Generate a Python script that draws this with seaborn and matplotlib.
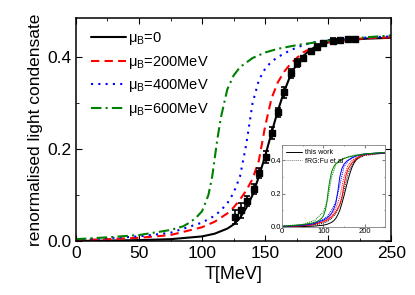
import matplotlib
matplotlib.use("Agg")
import matplotlib.pyplot as plt
from matplotlib.lines import Line2D
from matplotlib.ticker import MultipleLocator, FormatStrFormatter
import seaborn as sns

# ---------------------------------------------------------------------------
# Data
# ---------------------------------------------------------------------------

t_mu0 = [0, 25, 50, 75, 100, 110, 120, 125, 130, 135, 140, 145, 150, 155, 160,
         165, 170, 175, 180, 185, 190, 200, 210, 220, 230, 240, 250]
v_mu0 = [0.000, 0.001, 0.002, 0.004, 0.010, 0.016, 0.027, 0.036, 0.050, 0.072,
         0.100, 0.140, 0.185, 0.235, 0.283, 0.325, 0.360, 0.385, 0.402, 0.414,
         0.423, 0.432, 0.436, 0.438, 0.440, 0.441, 0.442]

t_mu200 = [0, 25, 50, 75, 100, 110, 120, 125, 130, 135, 140, 145, 150, 155, 160,
           165, 170, 175, 180, 190, 200, 210, 220, 230, 250]
v_mu200 = [0.002, 0.004, 0.007, 0.013, 0.030, 0.042, 0.060, 0.073, 0.090, 0.110,
           0.135, 0.175, 0.250, 0.310, 0.345, 0.368, 0.385, 0.398, 0.410, 0.424,
           0.432, 0.436, 0.439, 0.441, 0.443]

t_mu400 = [0, 25, 50, 75, 100, 110, 115, 120, 125, 130, 135, 140, 145, 150, 155,
           160, 170, 180, 190, 200, 220, 250]
v_mu400 = [0.003, 0.006, 0.010, 0.018, 0.040, 0.055, 0.067, 0.082, 0.105, 0.140,
           0.210, 0.300, 0.350, 0.375, 0.390, 0.400, 0.415, 0.426, 0.433, 0.437,
           0.441, 0.445]

t_mu600 = [0, 25, 50, 75, 85, 90, 95, 100, 105, 108, 110, 112, 115, 120, 125,
           130, 140, 150, 160, 175, 200, 225, 250]
v_mu600 = [0.004, 0.008, 0.013, 0.024, 0.032, 0.040, 0.050, 0.065, 0.100, 0.140,
           0.180, 0.220, 0.270, 0.330, 0.360, 0.378, 0.398, 0.410, 0.418, 0.426,
           0.436, 0.442, 0.447]

# lattice points with error bars
t_lat = [126, 131, 135.5, 141, 145, 150.6, 155.5, 160.5, 165, 170.6, 175, 180,
         186, 191, 196, 204, 209.5, 216, 221]
v_lat = [0.052, 0.067, 0.087, 0.113, 0.148, 0.183, 0.235, 0.280, 0.324, 0.365,
         0.387, 0.397, 0.413, 0.423, 0.430, 0.436, 0.437, 0.439, 0.439]
e_lat = [0.016, 0.016, 0.010, 0.010, 0.011, 0.013, 0.014, 0.010, 0.012, 0.010,
         0.008, 0.006, 0.005, 0.005, 0.005, 0.005, 0.004, 0.004, 0.004]

# inset: fRG comparison curves (Fu et al)
t_frg = [0, 50, 80, 100, 110, 120, 130, 140, 150, 160, 170, 180, 200, 250]
v_frg_mu0 = [0.001, 0.004, 0.012, 0.022, 0.032, 0.050, 0.080, 0.130, 0.220,
             0.320, 0.375, 0.405, 0.428, 0.442]
v_frg_mu200 = [0.002, 0.007, 0.018, 0.032, 0.045, 0.070, 0.110, 0.180, 0.300,
               0.370, 0.400, 0.415, 0.432, 0.443]
v_frg_mu400 = [0.003, 0.010, 0.025, 0.045, 0.065, 0.100, 0.150, 0.250, 0.360,
               0.395, 0.412, 0.423, 0.435, 0.444]
v_frg_mu600 = [0.005, 0.015, 0.040, 0.090, 0.160, 0.300, 0.370, 0.395, 0.410,
               0.420, 0.427, 0.432, 0.438, 0.445]

labels = ["μ$_\\mathrm{B}$=0", "μ$_\\mathrm{B}$=200MeV",
          "μ$_\\mathrm{B}$=400MeV", "μ$_\\mathrm{B}$=600MeV"]
colors = ["black", "red", "blue", "green"]
dashes = ["-", (0, (4, 2.5)), (0, (1, 2.5)), (0, (5, 2, 1, 2))]

# ---------------------------------------------------------------------------
# Plot
# ---------------------------------------------------------------------------

sns.set_style("ticks")
plt.rcParams["font.family"] = ["Liberation Sans", "DejaVu Sans"]
plt.rcParams["mathtext.fontset"] = "custom"
plt.rcParams["mathtext.rm"] = "Liberation Sans"
for key in ["text.color", "axes.labelcolor", "xtick.color", "ytick.color",
            "axes.edgecolor"]:
    plt.rcParams[key] = "black"

fig = plt.figure(figsize=(4.15, 2.95), dpi=100)
ax = fig.add_axes([0.183, 0.183, 0.76, 0.756])

series = [(t_mu0, v_mu0), (t_mu200, v_mu200), (t_mu400, v_mu400), (t_mu600, v_mu600)]
for (t, v), lab, col, ls in zip(series, labels, colors, dashes):
    sns.lineplot(x=t, y=v, ax=ax, color=col, lw=1.5, label=lab, linestyle=ls)

ax.errorbar(t_lat, v_lat, yerr=e_lat, fmt="s", color="black", ms=4.5,
            capsize=2.5, elinewidth=1.2, capthick=1.2, zorder=5)

ax.set_xlim(0, 250)
ax.set_ylim(0, 0.485)
ax.xaxis.set_major_locator(MultipleLocator(50))
ax.xaxis.set_minor_locator(MultipleLocator(25))
ax.yaxis.set_major_locator(MultipleLocator(0.2))
ax.yaxis.set_minor_locator(MultipleLocator(0.1))
ax.yaxis.set_major_formatter(FormatStrFormatter("%.1f"))
ax.tick_params(which="both", direction="in", top=True, right=True, labelsize=12.5)
ax.tick_params(which="major", length=4)
ax.tick_params(which="minor", length=2.5)
for s in ax.spines.values():
    s.set_linewidth(1.1)
ax.set_xlabel("T[MeV]", fontsize=13)
ax.set_ylabel("renormalised light condensate", fontsize=12.5, labelpad=3)

ax.legend(loc="upper left", frameon=False, fontsize=10.5, handlelength=2.4,
          labelspacing=0.45, handletextpad=0.15, borderaxespad=0.0,
          bbox_to_anchor=(0.03, 0.972))

# inset
ins = fig.add_axes([0.68, 0.231, 0.248, 0.277])
frg = [v_frg_mu0, v_frg_mu200, v_frg_mu400, v_frg_mu600]
for (t, v), vf, col in zip(series, frg, colors):
    sns.lineplot(x=t, y=v, ax=ins, color=col, lw=0.7)
    sns.lineplot(x=t_frg, y=vf, ax=ins, color=col, lw=0.7, linestyle=(0, (1, 1)))
ins.set_xlim(0, 250)
ins.set_ylim(0, 0.49)
ins.xaxis.set_major_locator(MultipleLocator(100))
ins.xaxis.set_minor_locator(MultipleLocator(50))
ins.yaxis.set_major_locator(MultipleLocator(0.2))
ins.yaxis.set_minor_locator(MultipleLocator(0.1))
ins.yaxis.set_major_formatter(FormatStrFormatter("%.1f"))
ins.tick_params(which="both", direction="in", top=True, right=True,
                labelsize=5.5, pad=1, color="gray")
ins.tick_params(which="major", length=2)
ins.tick_params(which="minor", length=1)
for s in ins.spines.values():
    s.set_linewidth(0.6)
    s.set_color("gray")
handles = [Line2D([], [], color="black", lw=0.7),
           Line2D([], [], color="gray", lw=0.7, linestyle=(0, (1, 1)))]
ins.legend(handles, ["this work", "fRG:Fu et al"], loc="upper left", frameon=False,
           fontsize=5, handlelength=2.2, labelspacing=0.2, borderaxespad=0.2,
           handletextpad=0.5)

fig.savefig("out.png", dpi=100)
